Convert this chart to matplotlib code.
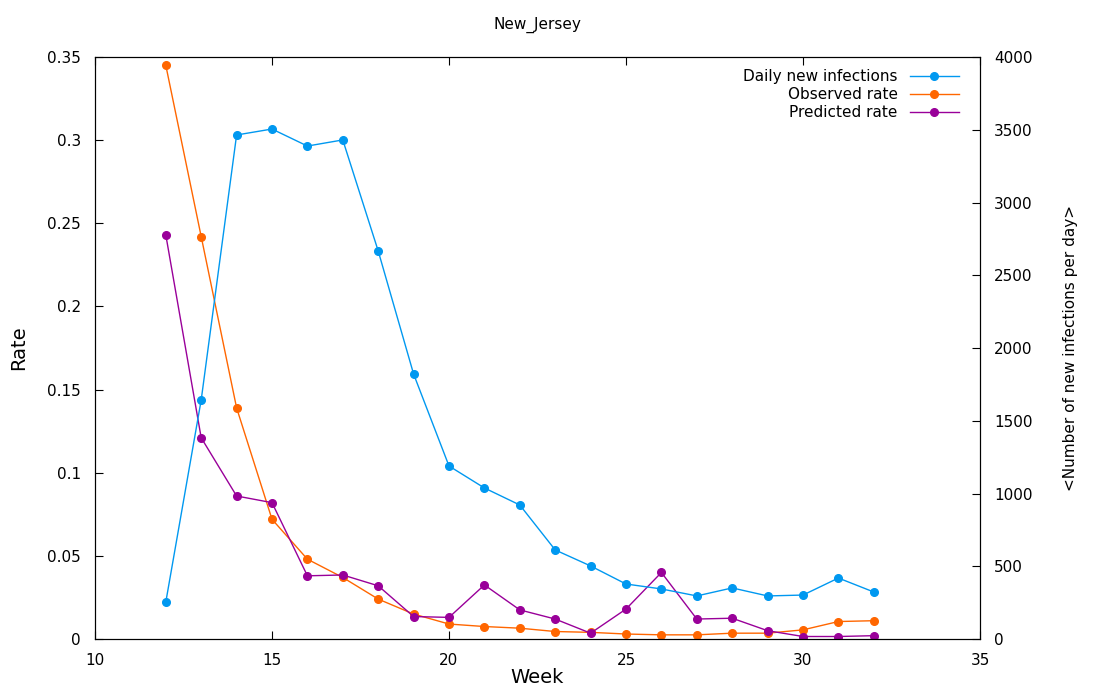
import matplotlib
matplotlib.use("Agg")
import matplotlib.pyplot as plt

weeks = list(range(12, 33))
daily = [254, 1643, 3464, 3505, 3388, 3430, 2667, 1821, 1189, 1038, 921, 612, 502, 378, 344, 296, 351, 296, 302, 419, 323]
observed = [0.345, 0.242, 0.139, 0.072, 0.048, 0.037, 0.024, 0.015, 0.009, 0.0075, 0.0065, 0.0045, 0.004, 0.003, 0.0025, 0.0025, 0.0035, 0.0035, 0.0055, 0.0105, 0.011]
predicted = [0.243, 0.121, 0.086, 0.082, 0.038, 0.0385, 0.032, 0.0135, 0.013, 0.0325, 0.0175, 0.012, 0.0035, 0.018, 0.040, 0.012, 0.0125, 0.005, 0.0015, 0.0015, 0.002]

fig = plt.figure(figsize=(11, 7), dpi=100)
ax = fig.add_axes([95/1100, 61/700, 885/1100, 582/700])
ax2 = ax.twinx()

l1, = ax2.plot(weeks, daily, '-o', color='#0098f0', lw=1, ms=5.5, label='Daily new infections')
l2, = ax.plot(weeks, observed, '-o', color='#ff6600', lw=1, ms=5.5, label='Observed rate')
l3, = ax.plot(weeks, predicted, '-o', color='#990099', lw=1, ms=5.5, label='Predicted rate')

ax.set_xlim(10, 35)
ax.set_ylim(0, 0.35)
ax2.set_ylim(0, 4000)
ax.set_xticks(range(10, 36, 5))
ax.set_yticks([0, 0.05, 0.1, 0.15, 0.2, 0.25, 0.3, 0.35])
ax.set_yticklabels(['0', '0.05', '0.1', '0.15', '0.2', '0.25', '0.3', '0.35'])
ax2.set_yticks(range(0, 4001, 500))
ax.tick_params(axis='x', direction='in', top=True, labelsize=11, length=6, pad=10)
ax.tick_params(axis='y', direction='in', labelsize=11, length=6, pad=10)
ax2.tick_params(direction='in', labelsize=11, length=6, pad=10)
ax.set_xlabel('Week', fontsize=14, labelpad=0)
ax.set_ylabel('Rate', fontsize=14, labelpad=14)
ax2.set_ylabel('<Number of new infections per day>', fontsize=11, labelpad=22)
ax.set_title('New_Jersey', fontsize=11, pad=20)

ax2.legend([l1, l2, l3], [l.get_label() for l in (l1, l2, l3)], loc='upper right',
           frameon=False, markerfirst=False, fontsize=11, handlelength=3.2,
           borderaxespad=0.4, labelspacing=0.2, bbox_to_anchor=(0.99, 1.0))

fig.savefig('out.png', dpi=100)
